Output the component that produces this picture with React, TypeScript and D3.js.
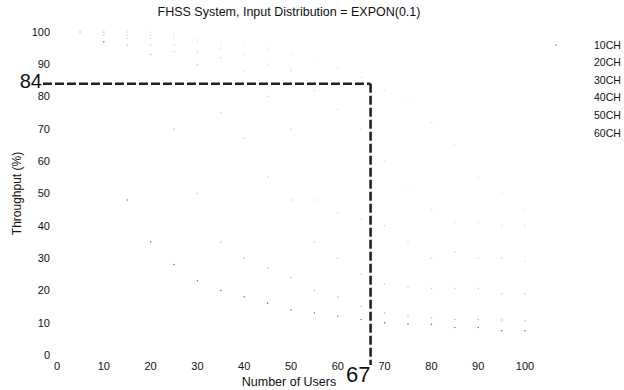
import React from "react";
import * as d3 from "d3";

const users = [5, 10, 15, 20, 25, 30, 35, 40, 45, 50, 55, 60, 65, 70, 75, 80, 85, 90, 95, 100];
const seriesNames = ["10CH", "20CH", "30CH", "40CH", "50CH", "60CH"];
const ch10 = [100, 97, 48, 35, 28, 23, 20, 18, 16, 14, 13, 12, 11, 10, 9.5, 9.5, 8.5, 8.5, 7.5, 7.5];
const ch20 = [100, 99, 96, 93, 70, 50, 35, 30, 27, 24, 20, 18, 15, 13, 12, 11.5, 11, 11, 10.8, 10.6];
const ch30 = [100, 100, 98, 96, 94, 90, 75, 67, 55, 48, 35, 30, 25, 22, 21, 20.6, 20.6, 20.6, 19, 19];
const ch40 = [100, 100, 99, 98, 96, 94, 92, 88, 80, 70, 48, 44, 42, 40, 35, 30, 32, 30, 30, 29];
const ch50 = [100, 100, 100, 99, 98, 97, 95, 93, 90, 88, 82, 76, 70, 60, 52, 45, 41, 41, 40, 40];
const ch60 = [100, 100, 100, 100, 99, 98, 97, 96, 95, 93, 91, 89, 86, 82, 78, 72, 65, 55, 50, 45];
const seriesValues = [ch10, ch20, ch30, ch40, ch50, ch60];
const seriesColors = ["#666", "#b5b5b5", "#c8c8c8", "#d2d2d2", "#dadada", "#e0e0e0"];

const xTicks = [0, 10, 20, 30, 40, 50, 60, 70, 80, 90, 100];
const yTicks = [0, 10, 20, 30, 40, 50, 60, 70, 80, 90, 100];
const markX = 67;
const markY = 84;

const title = "FHSS System, Input Distribution = EXPON(0.1)";
const xLabel = "Number of Users";
const yLabel = "Throughput (%)";

export default function App() {
  const W = 624, H = 390;
  const x = d3.scaleLinear().domain([0, 100]).range([57, 525]);
  const y = d3.scaleLinear().domain([0, 100]).range([355, 32]);
  const font = "Liberation Sans, Arial, sans-serif";

  return (
    <svg width={W} height={H} style={{ position: "absolute", left: 0, top: 0, background: "#fff" }} fontFamily={font}>
      <rect width={W} height={H} fill="#fff" />
      <text x={289} y={16} textAnchor="middle" fontSize={12.5} fill="#111">{title}</text>

      {yTicks.map((t) => (
        <text key={"y" + t} x={50} y={y(t)} dy="0.35em" textAnchor="end" fontSize={11} fill="#111">{t}</text>
      ))}
      {xTicks.map((t) => (
        <text key={"x" + t} x={x(t)} y={y(0) + 11} dy="0.35em" textAnchor="middle" fontSize={11} fill="#111">{t}</text>
      ))}

      <text x={289} y={386} textAnchor="middle" fontSize={12.5} fill="#111">{xLabel}</text>
      <text transform={`translate(21,${y(50)}) rotate(-90)`} textAnchor="middle" fontSize={12} fill="#111">{yLabel}</text>

      {seriesValues.map((vals, si) =>
        vals.map((v, i) => (
          <circle key={si + "-" + i} cx={x(users[i])} cy={y(v)} r={0.75} fill={seriesColors[si]} />
        ))
      )}

      <line x1={x(0) - 14} x2={x(markX)} y1={y(markY)} y2={y(markY)} stroke="#222" strokeWidth={2.6} strokeDasharray="9,3" />
      <line x1={x(markX)} x2={x(markX)} y1={y(markY)} y2={y(0) + 10} stroke="#222" strokeWidth={2.6} strokeDasharray="9,3" />
      <text x={x(0) - 15} y={y(markY) - 3} dy="0.35em" textAnchor="end" fontSize={20} fill="#111">{markY}</text>
      <text x={x(markX)} y={y(0) + 27} textAnchor="end" fontSize={22} fill="#111">{markX}</text>

      <circle cx={556} cy={45} r={0.8} fill="#777" />
      {seriesNames.map((n, i) => (
        <text key={n} x={594} y={45 + i * 17.6} dy="0.35em" fontSize={10.5} fill="#111">{n}</text>
      ))}
    </svg>
  );
}
